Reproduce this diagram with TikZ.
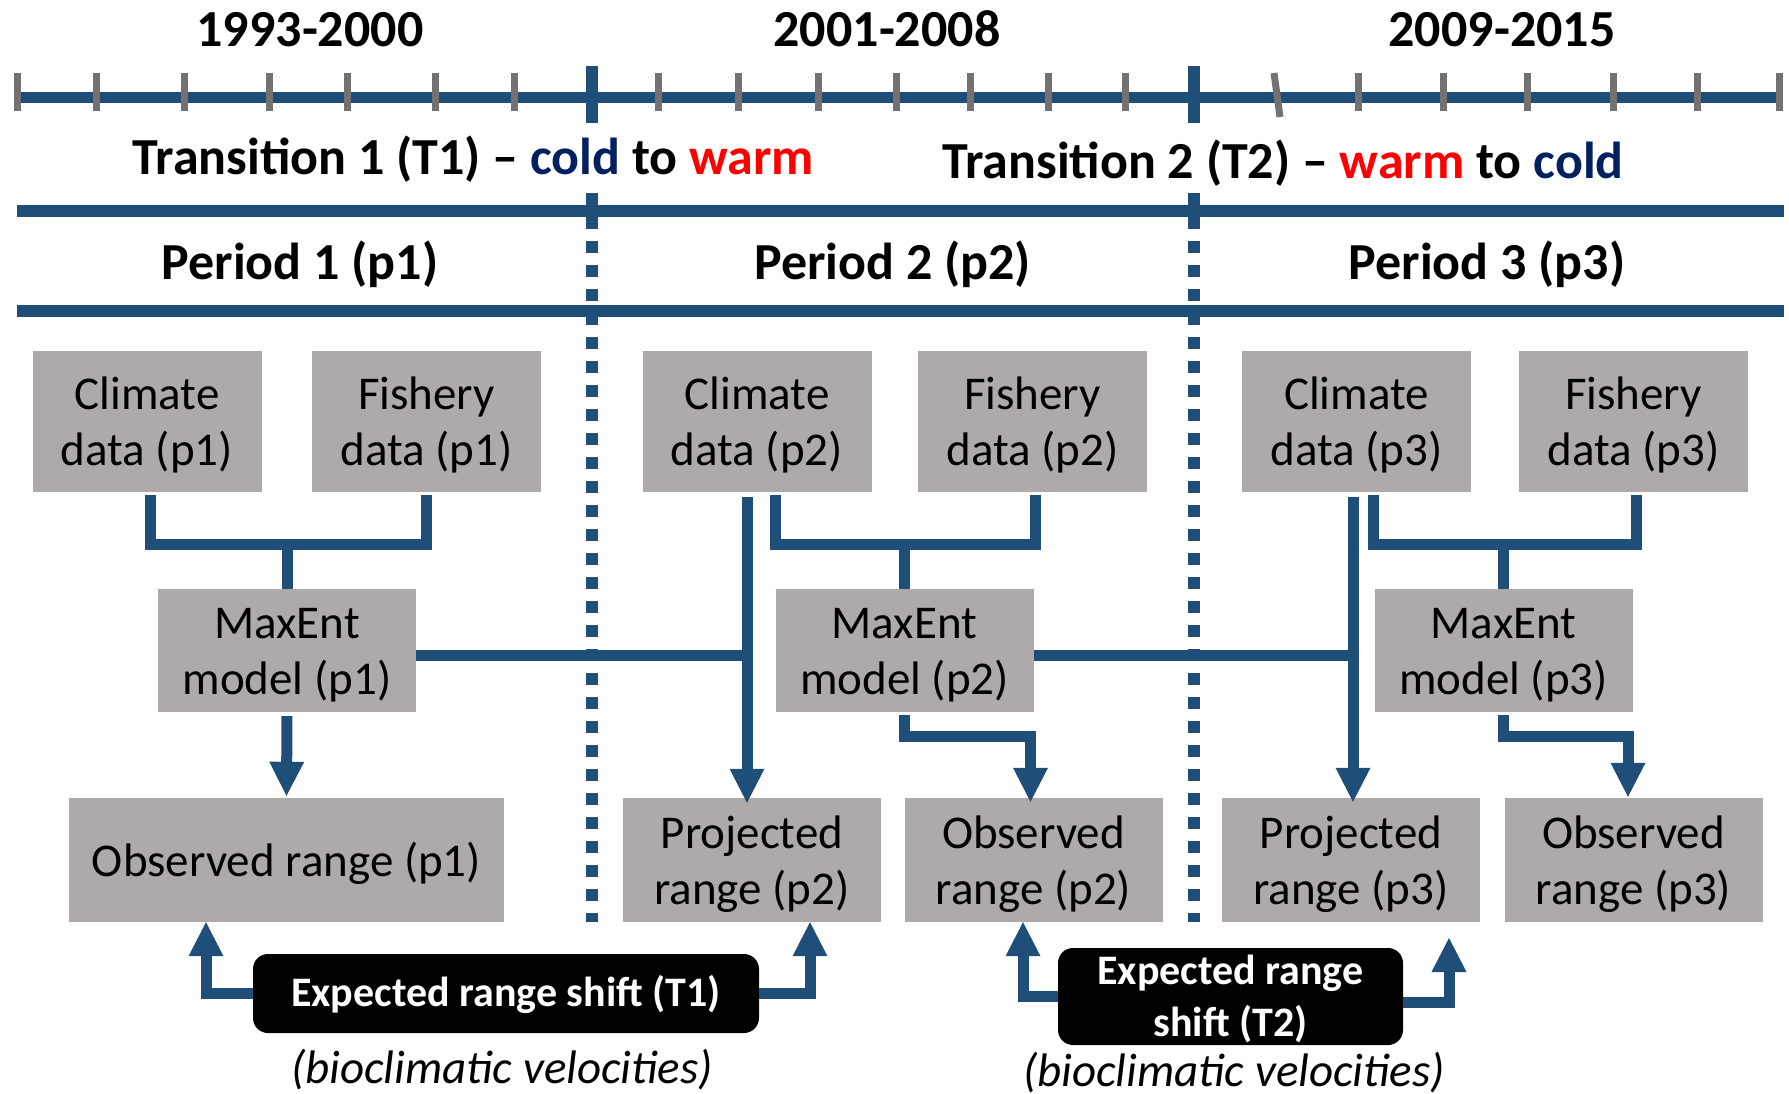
\documentclass[tikz,border=0pt]{standalone}
\usepackage{fontspec}
\setmainfont{Carlito}
\usetikzlibrary{arrows.meta,calc}
\definecolor{lineblue}{HTML}{1F4E79}
\definecolor{tickgray}{HTML}{767171}
\definecolor{boxgray}{HTML}{AEAAAA}
\definecolor{coldblue}{HTML}{002060}
\definecolor{warmred}{HTML}{FF0000}
\newcommand\bxtwo[2]{\begin{tabular}{@{}c@{}}\rule{0pt}{49pt}#1\\#2\end{tabular}}
\newcommand\bxone[1]{\begin{tabular}{@{}c@{}}\rule{0pt}{50pt}#1\end{tabular}}
\newcommand\shtwo[2]{\begin{tabular}{@{}c@{}}\rule{0pt}{36pt}#1\\#2\\[-7pt]\end{tabular}}
\newcommand\shone[1]{\begin{tabular}{@{}c@{}}\rule{0pt}{41pt}#1\end{tabular}}
\begin{document}
\begin{tikzpicture}[x=1pt,y=-1pt,
  hdr/.style={font=\fontsize{52}{62}\selectfont\bfseries, anchor=base, inner sep=0},
  graybox/.style={fill=boxgray, inner sep=0, align=center, font=\fontsize{47}{56}\selectfont},
  databox/.style={graybox, minimum width=229pt, minimum height=141pt},
  modelbox/.style={graybox, minimum width=258pt, minimum height=123pt},
  rangebox/.style={graybox, minimum width=258pt, minimum height=124pt},
  shiftbox/.style={fill=black, text=white, rounded corners=15pt, inner sep=0, align=center,
    font=\fontsize{42}{52}\selectfont\bfseries},
  note/.style={font=\fontsize{47}{56}\selectfont\itshape, anchor=base, inner sep=0},
  conn/.style={draw=lineblue, line width=11pt, line join=miter},
  arr/.style={conn, -{Triangle[width=35pt,length=34pt,line width=0pt]}},
  tickmark/.style={draw=tickgray, line width=7pt},
  sepline/.style={draw=lineblue, line width=12pt},
  divider/.style={draw=lineblue, line width=11.5pt, dash pattern=on 12pt off 12pt}
]
\useasboundingbox (0,0) rectangle (1789,1094);

% dashed dividers
\draw[divider] (592,193) -- (592,922);
\draw[divider] (1194,193) -- (1194,922);

% timeline
\draw[draw=lineblue, line width=11pt] (17,98) -- (1783,98);
\foreach \x in {17,96,184,269,347,435,514,658,738,818,896,970,1048,1125,1358,1443,1527,1613,1697,1779}
  \draw[tickmark] (\x,73) -- (\x,111);
\draw[tickmark] (1274,73) -- (1280,117);
\draw[draw=lineblue, line width=11.5pt] (592,66) -- (592,123);
\draw[draw=lineblue, line width=11.5pt] (1194,66) -- (1194,123);

% separator lines
\draw[sepline] (17,211) -- (1784,211);
\draw[sepline] (17,311) -- (1784,311);

% headers
\node[hdr] (y1) at (310,47) {1993-2000};
\node[hdr] (y2) at (887,47) {2001-2008};
\node[hdr] (y3) at (1502,47) {2009-2015};
\node[hdr] (tr1) at (473.5,174.5) {Transition 1 (T1) \textendash{} \textcolor{coldblue}{cold} to \textcolor{warmred}{warm}};
\node[hdr] (tr2) at (1283,179) {Transition 2 (T2) \textendash{} \textcolor{warmred}{warm} to \textcolor{coldblue}{cold}};
\node[hdr] (pe1) at (300,279.5) {Period 1 (p1)};
\node[hdr] (pe2) at (892.5,279.5) {Period 2 (p2)};
\node[hdr] (pe3) at (1487,279.5) {Period 3 (p3)};

% data boxes
\node[databox] (cd1) at (147,421.5) {\bxtwo{Climate}{data (p1)}};
\node[databox] (fd1) at (426.5,421.5) {\bxtwo{Fishery}{data (p1)}};
\node[databox] (cd2) at (757,421.5) {\bxtwo{Climate}{data (p2)}};
\node[databox] (fd2) at (1032.5,421.5) {\bxtwo{Fishery}{data (p2)}};
\node[databox] (cd3) at (1356.5,421.5) {\bxtwo{Climate}{data (p3)}};
\node[databox] (fd3) at (1633.5,421.5) {\bxtwo{Fishery}{data (p3)}};

% model boxes
\node[modelbox] (m1) at (287,650.5) {\bxtwo{MaxEnt}{model (p1)}};
\node[modelbox] (m2) at (904.5,650.5) {\bxtwo{MaxEnt}{model (p2)}};
\node[modelbox] (m3) at (1503.5,650.5) {\bxtwo{MaxEnt}{model (p3)}};

% range boxes
\node[rangebox, minimum width=435pt] (or1) at (286.5,860) {\bxone{Observed range (p1)}};
\node[rangebox] (pr2) at (752,860) {\bxtwo{Projected}{range (p2)}};
\node[rangebox] (or2) at (1033.5,860) {\bxtwo{Observed}{range (p2)}};
\node[rangebox] (pr3) at (1351,860) {\bxtwo{Projected}{range (p3)}};
\node[rangebox] (or3) at (1633.5,860) {\bxtwo{Observed}{range (p3)}};

% expected shift boxes
\node[shiftbox, minimum width=506pt, minimum height=79pt] (es1) at (506,993.5) {\shone{Expected range shift (T1)}};
\node[shiftbox, minimum width=345pt, minimum height=97pt] (es2) at (1230.5,996.5) {\shtwo{Expected range}{shift (T2)}};
\node[note] (bv1) at (502,1083) {(bioclimatic velocities)};
\node[note] (bv2) at (1234,1086) {(bioclimatic velocities)};

% brackets data -> model
\draw[conn] ([xshift=3pt,yshift=-3pt]cd1.south) -- ++(0,49) -| ([yshift=-3pt]fd1.south);
\draw[conn] (m1.north) -- ++(0,-45);
\draw[conn] ([xshift=18pt,yshift=-3pt]cd2.south) -- ++(0,49) -| ([xshift=2.5pt,yshift=-3pt]fd2.south);
\draw[conn] (m2.north) -- ++(0,-45);
\draw[conn] ([xshift=16.5pt,yshift=-3pt]cd3.south) -- ++(0,49) -| ([xshift=2.5pt,yshift=-3pt]fd3.south);
\draw[conn] (m3.north) -- ++(0,-45);

% projections
\coordinate (j2) at (747,655);
\coordinate (j3) at (1353,655);
\draw[arr] ([xshift=-10pt,yshift=-5pt]cd2.south) -- ([xshift=-5pt,yshift=-5pt]pr2.north);
\draw[conn] (m1.east |- j2) -- (j2);
\draw[arr] ([xshift=-3.5pt,yshift=-5pt]cd3.south) -- ([xshift=2pt,yshift=-4pt]pr3.north);
\draw[conn] (m2.east |- j3) -- (j3);

% model -> observed
\draw[arr] ([yshift=-4pt]m1.south) -- ([yshift=2pt]or1.north);
\draw[arr] ([yshift=-3pt]m2.south) -- ++(0,21) -| ([xshift=-3pt,yshift=-4pt]or2.north);
\draw[arr] ([yshift=-3pt]m3.south) -- ++(0,21) -| ([xshift=-5.5pt,yshift=1pt]or3.north);

% expected shift arrows
\coordinate (t2end) at (1449,938);
\draw[arr] (es1.west) -| ([xshift=-80.5pt]or1.south);
\draw[arr] (es1.east) -| ([xshift=58pt]pr2.south);
\draw[arr] (es2.west) -| ([xshift=-10.5pt]or2.south);
\draw[arr] ([yshift=-5.5pt]es2.east) -| (t2end);
\end{tikzpicture}
\end{document}
